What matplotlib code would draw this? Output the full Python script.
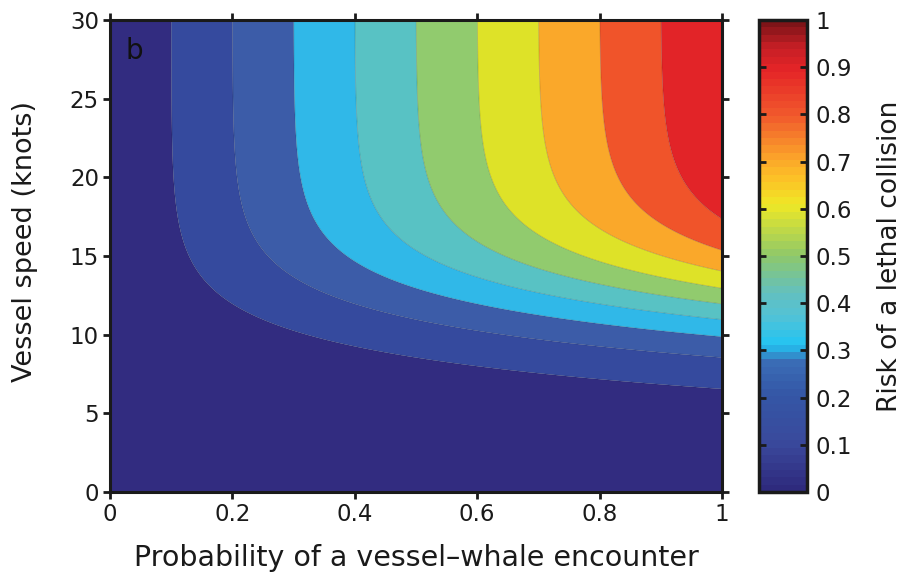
import numpy as np
import matplotlib
matplotlib.use("Agg")
import matplotlib.pyplot as plt
from matplotlib.colors import LinearSegmentedColormap, Normalize
from matplotlib.cm import ScalarMappable

# risk contour levels and the vessel speed where each level meets the right edge (p = 1)
risk_levels = [0.1, 0.2, 0.3, 0.4, 0.5, 0.6, 0.7, 0.8, 0.9]
speed_at_full_encounter = [6.6, 8.6, 9.9, 10.8, 11.9, 13.0, 14.0, 15.4, 17.4]

# fill colour of each 0.1 band, 0-0.1 up to 0.9-1
band_colors = ["#322c80", "#354a9e", "#3c5ca8", "#30b8e8", "#58c2c4",
               "#91cb6e", "#dee228", "#faa82a", "#f0542a", "#e22428"]

# colour bar gradient (position, colour)
cbar_stops = [(0.0, "#2e2a7d"), (0.1, "#3a4a9c"), (0.2, "#3456a6"), (0.27, "#3a6cb5"),
              (0.31, "#22c4f2"), (0.37, "#52c2d6"), (0.42, "#62c0c0"), (0.5, "#8ec86a"),
              (0.61, "#eee826"), (0.66, "#fcc526"), (0.71, "#fba52a"), (0.8, "#f15a2c"),
              (0.9, "#e52427"), (0.95, "#c41f25"), (1.0, "#7e1418")]

x_ticks = [0, 0.2, 0.4, 0.6, 0.8, 1]
x_tick_labels = ["0", "0.2", "0.4", "0.6", "0.8", "1"]
y_ticks = [0, 5, 10, 15, 20, 25, 30]
c_ticks = [0, 0.1, 0.2, 0.3, 0.4, 0.5, 0.6, 0.7, 0.8, 0.9, 1]
c_tick_labels = ["0", "0.1", "0.2", "0.3", "0.4", "0.5", "0.6", "0.7", "0.8", "0.9", "1"]

# logistic lethality curve fitted to the read crossings
lv = np.array(risk_levels)
b, a = np.polyfit(speed_at_full_encounter, np.log(lv / (1 - lv)), 1)

p = np.linspace(0, 1, 500)
s = np.linspace(0, 30, 500)
P, S = np.meshgrid(p, s)
lethal = 1 / (1 + np.exp(-(a + b * S)))
risk = P * lethal

plt.rcParams["font.family"] = "DejaVu Sans"

fig = plt.figure(figsize=(9.02, 5.76), dpi=100)
ax = fig.add_axes([0.122, 0.1458, 0.6784, 0.8195])

bounds = [0] + risk_levels + [1.0]
ax.contourf(P, S, risk, levels=bounds, colors=band_colors, antialiased=True)
ax.contour(P, S, risk, levels=risk_levels, colors="k", linewidths=0.6, alpha=0.18)

ax.set_xlim(0, 1)
ax.set_ylim(0, 30)
ax.set_xticks(x_ticks)
ax.set_xticklabels(x_tick_labels)
ax.set_yticks(y_ticks)
ax.tick_params(direction="out", length=5, width=2, labelsize=16.5, pad=3,
               top=True, right=True, colors="#1a1a1a")
for sp in ax.spines.values():
    sp.set_linewidth(2.2)
    sp.set_color("#1a1a1a")

ax.set_xlabel("Probability of a vessel\u2013whale encounter", fontsize=20.5, labelpad=13,
              color="#1a1a1a")
ax.set_ylabel("Vessel speed (knots)", fontsize=19.5, color="#1a1a1a")
ax.yaxis.set_label_coords(-0.118, 0.53)
ax.text(0.025, 0.965, "b", transform=ax.transAxes, fontsize=20, va="top", ha="left",
        color="#111111")

# colour bar
cmap = LinearSegmentedColormap.from_list("risk", cbar_stops, N=64)
cax = fig.add_axes([0.8415, 0.1458, 0.0532, 0.8195])
cb = fig.colorbar(ScalarMappable(norm=Normalize(0, 1), cmap=cmap), cax=cax)
cb.set_ticks(c_ticks)
cb.set_ticklabels(c_tick_labels)
cax.tick_params(direction="in", left=True, right=True, length=5, width=2,
                labelsize=16.5, pad=6, colors="#1a1a1a")
cb.outline.set_linewidth(2.5)
cb.outline.set_edgecolor("#1a1a1a")
cb.set_label("Risk of a lethal collision", fontsize=19, labelpad=18, color="#1a1a1a")

fig.savefig("out.png", dpi=100)
